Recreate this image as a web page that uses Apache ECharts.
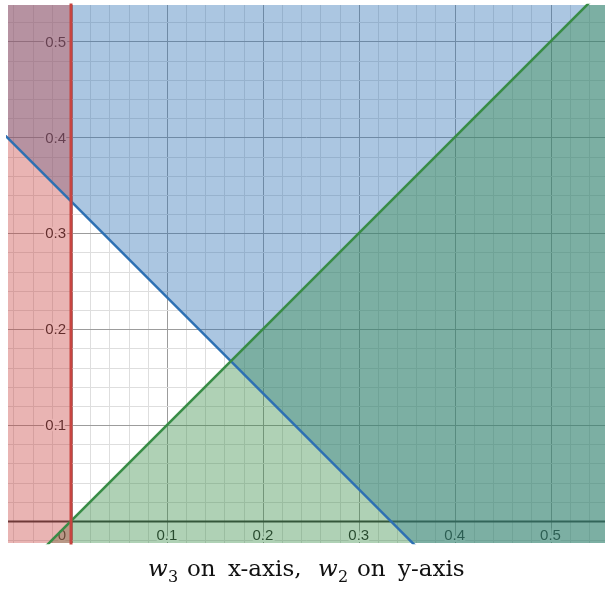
<!DOCTYPE html>
<html>
<head>
<meta charset="utf-8">
<script src="https://cdn.jsdelivr.net/npm/echarts@6/dist/echarts.min.js"></script>
<style>html,body{margin:0;padding:0;background:#fff}#c{width:605px;height:591px}</style>
</head>
<body>
<div id="c"></div>
<script>
// view window (data units)
const X_RANGE = [-0.0657, 0.5568];
const Y_RANGE = [-0.0229, 0.538];
// grid lines
const gridX = [-0.06,-0.04,-0.02,0,0.02,0.04,0.06,0.08,0.1,0.12,0.14,0.16,0.18,0.2,0.22,0.24,0.26,0.28,0.3,0.32,0.34,0.36,0.38,0.4,0.42,0.44,0.46,0.48,0.5,0.52,0.54];
const gridY = [-0.02,0,0.02,0.04,0.06,0.08,0.1,0.12,0.14,0.16,0.18,0.2,0.22,0.24,0.26,0.28,0.3,0.32,0.34,0.36,0.38,0.4,0.42,0.44,0.46,0.48,0.5,0.52];
const majorTicks = [0.1,0.2,0.3,0.4,0.5];
const xTickLabels = ['0.1','0.2','0.3','0.4','0.5'];
const yTickLabels = ['0.1','0.2','0.3','0.4','0.5'];
// boundaries: w3 >= 0 (red), w2 >= 1/3 - w3 (blue), w2 <= w3 (green)
const redBoundary = [[0,-0.1],[0,0.6]];
const redFillTop = [[-0.1,0.6],[0,0.6]];
const blueBoundary = [[-0.1,0.4333],[0.6,-0.2667]];
const greenBoundary = [[-0.1,-0.1],[0.6,0.6]];
// caption pieces
const captionWords = [
  {t:'w', x:148, italic:true}, {t:'3', x:168, sub:true},
  {t:'on', x:187}, {t:'x-axis,', x:228},
  {t:'w', x:318, italic:true}, {t:'2', x:338, sub:true},
  {t:'on', x:357}, {t:'y-axis', x:398}
];

const RED = '#c74440', BLUE = '#2d70b3', GREEN = '#388c46';
const fillA = 0.4;
function rgba(hex,a){const n=parseInt(hex.slice(1),16);return `rgba(${n>>16},${(n>>8)&255},${n&255},${a})`;}

const near = (a,b)=>Math.abs(a-b)<1e-9;
const isMajor = v => majorTicks.some(t=>near(t,v));
const LABEL_FONT = '15px "Liberation Sans", Arial, sans-serif';
const LABEL_COLOR = '#1e1e1e';

const captionGraphics = captionWords.map(w=>({
  type:'text', x:w.x, y: w.sub ? 578 : 570,
  style:{text:w.t, fill:'#111', verticalAlign:'middle', align:'left',
    font: (w.italic?'italic ':'') + (w.sub?'16px':'23px') + ' "DejaVu Serif", serif'}
}));

const chart = echarts.init(document.getElementById('c'), null, {renderer:'canvas'});
chart.setOption({
  animation:false,
  backgroundColor:'#fff',
  grid:{left:8,right:0,top:5,bottom:48,containLabel:false},
  xAxis:{type:'value',min:X_RANGE[0],max:X_RANGE[1],show:false,splitLine:{show:false}},
  yAxis:{type:'value',min:Y_RANGE[0],max:Y_RANGE[1],show:false,splitLine:{show:false}},
  graphic:captionGraphics,
  series:[
    // vertical grid lines
    {type:'custom',z:1,silent:true,clip:true,
     data:gridX.map(v=>[v,0]),
     renderItem:(params,api)=>{
       const cs=params.coordSys, v=api.value(0), px=Math.round(api.coord([v,0])[0])+0.5;
       const axis=near(v,0);
       return {type:'line',shape:{x1:px,y1:cs.y,x2:px,y2:cs.y+cs.height},
         style:{stroke:axis?'#333':(isMajor(v)?'#9c9c9c':'#dedede'),lineWidth:axis?2:1}};
     }},
    // horizontal grid lines
    {type:'custom',z:1,silent:true,clip:true,
     data:gridY.map(v=>[0,v]),
     renderItem:(params,api)=>{
       const cs=params.coordSys, v=api.value(1), py=Math.round(api.coord([0,v])[1])+0.5;
       const axis=near(v,0);
       return {type:'line',shape:{x1:cs.x,y1:py,x2:cs.x+cs.width,y2:py},
         style:{stroke:axis?'#333':(isMajor(v)?'#9c9c9c':'#dedede'),lineWidth:axis?2:1}};
     }},
    // x tick labels
    {type:'custom',z:2,silent:true,clip:false,
     data:majorTicks.map((v,i)=>[v,0,i]),
     renderItem:(params,api)=>{
       const p=api.coord([api.value(0),0]);
       return {type:'text',x:p[0],y:p[1]+7,style:{text:xTickLabels[api.value(2)],align:'center',verticalAlign:'top',
         font:LABEL_FONT,fill:LABEL_COLOR,stroke:'#fff',lineWidth:4}};
     }},
    // y tick labels
    {type:'custom',z:2,silent:true,clip:false,
     data:majorTicks.map((v,i)=>[0,v,i]),
     renderItem:(params,api)=>{
       const p=api.coord([0,api.value(1)]);
       return {type:'text',x:p[0]-5,y:p[1]+1,style:{text:yTickLabels[api.value(2)],align:'right',verticalAlign:'middle',
         font:LABEL_FONT,fill:LABEL_COLOR,stroke:'#fff',lineWidth:4}};
     }},
    // origin label
    {type:'custom',z:2,silent:true,clip:false,
     data:[[0,0]],
     renderItem:(params,api)=>{
       const p=api.coord([0,0]);
       return {type:'text',x:p[0]-5,y:p[1]+7,style:{text:'0',align:'right',verticalAlign:'top',
         font:LABEL_FONT,fill:LABEL_COLOR,stroke:'#fff',lineWidth:4}};
     }},
    // fills (blue, green, then red on top)
    {type:'line',z:3,zlevel:0,silent:true,clip:true,symbol:'none',data:blueBoundary,
     lineStyle:{width:0},areaStyle:{color:rgba(BLUE,fillA),origin:'end',opacity:1}},
    {type:'line',z:3,silent:true,clip:true,symbol:'none',data:greenBoundary,
     lineStyle:{width:0},areaStyle:{color:rgba(GREEN,fillA),origin:'start',opacity:1}},
    {type:'line',z:3,silent:true,clip:true,symbol:'none',data:redFillTop,
     lineStyle:{width:0},areaStyle:{color:rgba(RED,fillA),origin:'start',opacity:1}},
    // boundary lines
    {type:'line',z:4,silent:true,clip:true,symbol:'none',data:blueBoundary,lineStyle:{color:BLUE,width:2.5}},
    {type:'line',z:4,silent:true,clip:true,symbol:'none',data:greenBoundary,lineStyle:{color:GREEN,width:2.5}},
    {type:'line',z:5,silent:true,clip:true,symbol:'none',data:redBoundary,lineStyle:{color:RED,width:3}}
  ]
});
</script>
</body>
</html>
